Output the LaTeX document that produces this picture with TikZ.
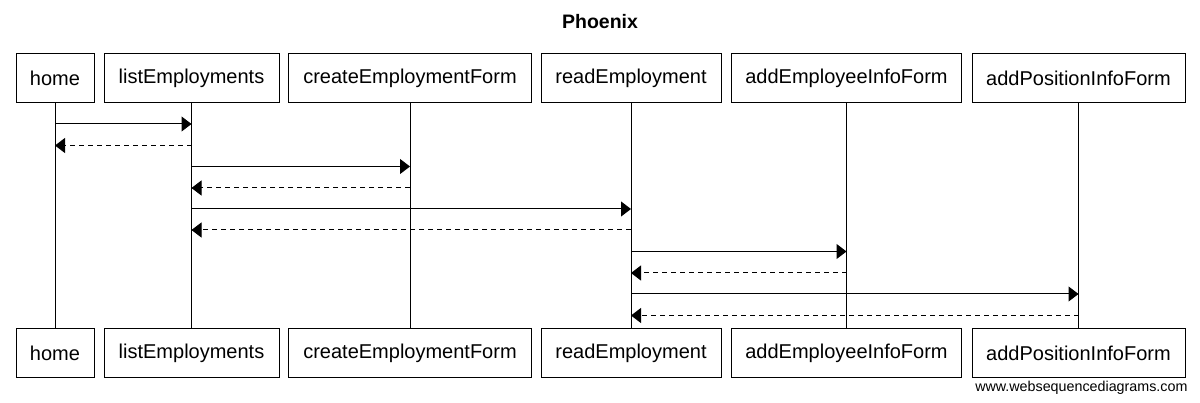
\documentclass[tikz,border=0pt]{standalone}
\usepackage{fontspec}
\setmainfont{Liberation Sans}
\usetikzlibrary{arrows.meta}

\tikzset{
    actor/.style={draw, line width=1pt, minimum height=49pt, inner sep=0pt, font=\fontsize{20}{22}\selectfont},
    msg/.style={-{Triangle[length=10pt,width=15pt]}, line width=1pt},
    reply/.style={-{Triangle[length=10pt,width=15pt]}, line width=1pt, dash pattern=on 5pt off 4pt},
}

\begin{document}
\begin{tikzpicture}[x=1pt,y=-1pt]
                    \useasboundingbox (0,0) rectangle (1200,403);
                    \node[font=\bfseries\fontsize{19.5}{22}\selectfont] (title) at (600,22) {Phoenix};
                    \node[actor, minimum width=78pt] (homeT) at (55,78) {home};
                    \node[actor, minimum width=175pt] (listT) at (191.5,78) {listEmployments};
                    \node[actor, minimum width=243pt] (createT) at (410,78) {createEmploymentForm};
                    \node[actor, minimum width=180pt] (readT) at (631,78) {readEmployment};
                    \node[actor, minimum width=230pt] (empT) at (846.5,78) {addEmployeeInfoForm};
                    \node[actor, minimum width=213pt] (posT) at (1078.5,78) {addPositionInfoForm};
                    \node[actor, minimum width=78pt] (homeB) at (55,353.5) {home};
                    \node[actor, minimum width=175pt] (listB) at (191.5,353.5) {listEmployments};
                    \node[actor, minimum width=243pt] (createB) at (410,353.5) {createEmploymentForm};
                    \node[actor, minimum width=180pt] (readB) at (631,353.5) {readEmployment};
                    \node[actor, minimum width=230pt] (empB) at (846.5,353.5) {addEmployeeInfoForm};
                    \node[actor, minimum width=213pt] (posB) at (1078.5,353.5) {addPositionInfoForm};
                    \node[anchor=east, font=\fontsize{14.3}{16}\selectfont] (site) at (1191,388) {www.websequencediagrams.com};
                    \draw[line width=1pt] (homeT.south) -- (homeB.north);
                    \draw[line width=1pt] (listT.south) -- (listB.north);
                    \draw[line width=1pt] (createT.south) -- (createB.north);
                    \draw[line width=1pt] (readT.south) -- (readB.north);
                    \draw[line width=1pt] (empT.south) -- (empB.north);
                    \draw[line width=1pt] (posT.south) -- (posB.north);
                    \draw[msg] (homeT |- 0,124) -- (listT |- 0,124);
                    \draw[reply] (listT |- 0,145.5) -- (homeT |- 0,145.5);
                    \draw[msg] (listT |- 0,166.5) -- (createT |- 0,166.5);
                    \draw[reply] (createT |- 0,188) -- (listT |- 0,188);
                    \draw[msg] (listT |- 0,209) -- (readT |- 0,209);
                    \draw[reply] (readT |- 0,230) -- (listT |- 0,230);
                    \draw[msg] (readT |- 0,251.5) -- (empT |- 0,251.5);
                    \draw[reply] (empT |- 0,273) -- (readT |- 0,273);
                    \draw[msg] (readT |- 0,294) -- (posT |- 0,294);
                    \draw[reply] (posT |- 0,315.5) -- (readT |- 0,315.5);
                \end{tikzpicture}
\end{document}
